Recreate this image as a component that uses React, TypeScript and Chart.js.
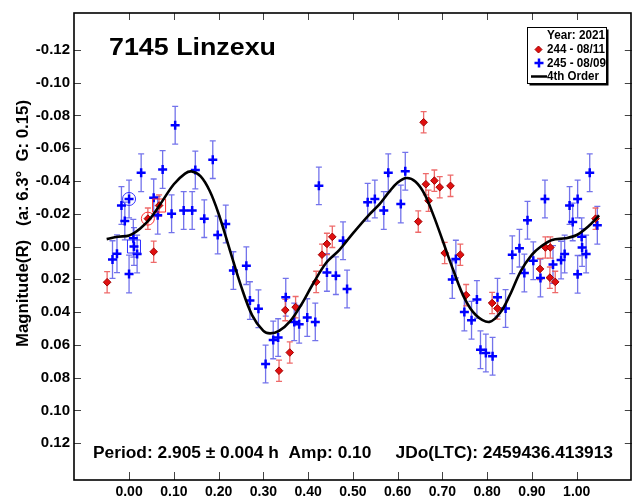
import React, { useEffect, useRef } from 'react';
import { Chart, registerables } from 'chart.js';

Chart.register(...registerables);

const xTickValues = [0, 0.1, 0.2, 0.3, 0.4, 0.5, 0.6, 0.7, 0.8, 0.9, 1.0];
const yTickValues = [-0.12, -0.1, -0.08, -0.06, -0.04, -0.02, 0, 0.02, 0.04, 0.06, 0.08, 0.1, 0.12];

// Session 244 - 08/11 (red diamonds)
const redX = [-0.049, 0.042, 0.055, 0.067, 0.335, 0.349, 0.359, 0.372, 0.418, 0.431, 0.442, 0.454,
  0.646, 0.658, 0.663, 0.669, 0.682, 0.694, 0.718, 0.705, 0.74, 0.753, 0.811, 0.823,
  0.918, 0.93, 0.941, 0.94, 0.952, 1.042];
const redY = [0.0218, -0.017, 0.0032, -0.025, 0.0758, 0.0388, 0.0647, 0.037, 0.0216, 0.005, -0.0016, -0.0059,
  -0.0152, -0.0758, -0.038, -0.0279, -0.0402, -0.0362, -0.037, 0.004, 0.005, 0.0297, 0.0345, 0.0378,
  0.0137, 0.0006, 0.0006, 0.019, 0.0216, -0.017];

// Session 245 - 08/09 (blue crosses)
const blueX = [-0.037, -0.027, 0.0, -0.017, -0.0095, 0.0, 0.0095, 0.011, 0.018, 0.027, 0.055, 0.064,
  0.075, 0.095, 0.103, 0.122, 0.141, 0.148, 0.168, 0.187, 0.198, 0.216, 0.233, 0.262,
  0.27, 0.289, 0.305, 0.322, 0.333, 0.35, 0.369, 0.38, 0.398, 0.416, 0.442, 0.462,
  0.478, 0.487, 0.424, 0.533, 0.549, 0.569, 0.579, 0.607, 0.617, 0.722, 0.73, 0.749,
  0.765, 0.777, 0.785, 0.797, 0.812, 0.823, 0.841, 0.856, 0.872, 0.883, 0.89, 0.903,
  0.919, 0.929, 0.947, 0.965, 0.973, 0.984, 0.991, 1.002, 1.002, 1.011, 1.012, 1.021,
  1.029, 1.046];
const blueY = [0.008, 0.0044, 0.0168, -0.025, -0.0156, -0.029, -0.005, 0.0, 0.0046, -0.045, -0.0297, -0.019,
  -0.047, -0.02, -0.074, -0.022, -0.022, -0.0467, -0.017, -0.053, -0.007, -0.0137, 0.0147, 0.0117,
  0.033, 0.038, 0.0717, 0.057, 0.0556, 0.031, 0.046, 0.0475, 0.0434, 0.046, 0.0158, 0.0178,
  -0.0035, 0.0259, -0.037, -0.027, -0.029, -0.022, -0.045, -0.0259, -0.0459, 0.0202, 0.0077, 0.04,
  0.045, 0.0323, 0.063, 0.065, 0.067, 0.031, 0.0378, 0.005, 0.001, 0.0162, -0.016, 0.0087,
  0.0192, -0.029, 0.011, 0.0083, 0.0046, -0.025, -0.015, -0.029, 0.017, -0.006, 0.0006, 0.0046,
  -0.045, -0.013];

const redErr = 0.0065;
const blueErr = 0.0115;

// highlighted points (circle / square markers)
const redCircleX = [0.042];
const redCircleY = [-0.017];
const redSquareX = [0.067];
const redSquareY = [-0.025];
const blueCircleX = [0.0];
const blueCircleY = [-0.029];
const blueSquareX = [0.011];
const blueSquareY = [0.0];

// 4th order fit curve
const curveX = [-0.05, -0.025, 0.0, 0.025, 0.05, 0.075, 0.1, 0.125, 0.14, 0.16, 0.18, 0.2, 0.225, 0.25,
  0.275, 0.3, 0.315, 0.335, 0.36, 0.385, 0.41, 0.44, 0.47, 0.5, 0.535, 0.56, 0.58, 0.6, 0.62, 0.64,
  0.66, 0.68, 0.7, 0.725, 0.75, 0.775, 0.805, 0.83, 0.85, 0.875, 0.9, 0.92, 0.945, 0.975, 1.0, 1.025, 1.05];
const curveY = [-0.0045, -0.006, -0.0067, -0.011, -0.018, -0.028, -0.038, -0.0445, -0.0458, -0.0428, -0.034, -0.02, 0.002, 0.024,
  0.042, 0.0515, 0.053, 0.0515, 0.0455, 0.0354, 0.0232, 0.0101, 0.002, -0.008, -0.019, -0.026, -0.033, -0.039, -0.0418, -0.0395,
  -0.032, -0.019, -0.004, 0.015, 0.032, 0.042, 0.046, 0.04, 0.03, 0.015, 0.005, 0.0, -0.004, -0.005, -0.007, -0.012, -0.019];

const FONT = '"Liberation Sans", Arial, sans-serif';

const pts = (xs: number[], ys: number[]) => xs.map((x, i) => ({ x, y: ys[i] }));

function fitText(ctx: CanvasRenderingContext2D, text: string, x: number, y: number, w: number, font: string, align: 'left' | 'right' = 'left', baseline: CanvasTextBaseline = 'alphabetic') {
  ctx.save();
  ctx.font = font;
  ctx.textAlign = 'left';
  ctx.textBaseline = baseline;
  const m = ctx.measureText(text).width;
  const sx = w / m;
  ctx.translate(align === 'right' ? x - w : x, y);
  ctx.scale(sx, 1);
  ctx.fillStyle = '#000';
  ctx.fillText(text, 0, 0);
  ctx.restore();
}

function rotText(ctx: CanvasRenderingContext2D, text: string, xBase: number, yStart: number, len: number, font: string) {
  ctx.save();
  ctx.font = font;
  ctx.textAlign = 'left';
  ctx.textBaseline = 'alphabetic';
  const m = ctx.measureText(text).width;
  ctx.translate(xBase, yStart);
  ctx.rotate(-Math.PI / 2);
  ctx.scale(len / m, 1);
  ctx.fillStyle = '#000';
  ctx.fillText(text, 0, 0);
  ctx.restore();
}

const overlay = {
  id: 'overlay',
  beforeDatasetsDraw(chart: any) {
    const ctx: CanvasRenderingContext2D = chart.ctx;
    const xs = chart.scales.x;
    const ys = chart.scales.y;
    const drawBars = (xArr: number[], yArr: number[], err: number, color: string) => {
      ctx.save();
      ctx.strokeStyle = color;
      ctx.lineWidth = 1.3;
      xArr.forEach((xv, i) => {
        const px = xs.getPixelForValue(xv);
        const p1 = ys.getPixelForValue(yArr[i] - err);
        const p2 = ys.getPixelForValue(yArr[i] + err);
        ctx.beginPath();
        ctx.moveTo(px, p1);
        ctx.lineTo(px, p2);
        ctx.moveTo(px - 3, p1);
        ctx.lineTo(px + 3, p1);
        ctx.moveTo(px - 3, p2);
        ctx.lineTo(px + 3, p2);
        ctx.stroke();
      });
      ctx.restore();
    };
    drawBars(blueX, blueY, blueErr, 'rgba(80,80,230,0.8)');
    drawBars(redX, redY, redErr, 'rgba(235,80,80,0.85)');
  },
  afterDraw(chart: any) {
    const ctx: CanvasRenderingContext2D = chart.ctx;
    const a = chart.chartArea;
    const xs = chart.scales.x;
    const ys = chart.scales.y;
    ctx.save();
    // tick marks (inside)
    ctx.strokeStyle = '#444';
    ctx.lineWidth = 1;
    ctx.beginPath();
    yTickValues.forEach((v) => {
      const py = Math.round(ys.getPixelForValue(v)) + 0.5;
      ctx.moveTo(a.left, py);
      ctx.lineTo(a.left + 7, py);
      ctx.moveTo(a.right - 7, py);
      ctx.lineTo(a.right, py);
    });
    xTickValues.forEach((v) => {
      const px = Math.round(xs.getPixelForValue(v)) + 0.5;
      ctx.moveTo(px, a.bottom);
      ctx.lineTo(px, a.bottom - 8);
      ctx.moveTo(px, a.top);
      ctx.lineTo(px, a.top + 7);
    });
    ctx.stroke();
    // frame
    ctx.strokeStyle = '#000';
    ctx.lineWidth = 1.6;
    ctx.strokeRect(a.left, a.top, a.right - a.left - 0.8, a.bottom - a.top);
    ctx.restore();

    // title
    fitText(ctx, '7145 Linzexu', 109, 55, 167, `bold 23px ${FONT}`);
    // footer
    fitText(ctx, 'Period: 2.905 ± 0.004 h  Amp: 0.10     JDo(LTC): 2459436.413913', 93, 457.5, 520, `bold 16px ${FONT}`);
    // y axis title
    rotText(ctx, 'Magnitude(R)   (a: 6.3°  G: 0.15)', 27.5, 347, 247, `bold 16px ${FONT}`);

    // legend
    ctx.save();
    ctx.fillStyle = '#000';
    ctx.fillRect(529.5, 29.5, 79, 56);
    ctx.fillStyle = '#fff';
    ctx.fillRect(527.5, 27.5, 79, 56);
    ctx.strokeStyle = '#000';
    ctx.lineWidth = 1;
    ctx.strokeRect(527.5, 27.5, 79, 56);
    // diamond
    ctx.fillStyle = '#e01010';
    ctx.strokeStyle = '#a00000';
    ctx.beginPath();
    ctx.moveTo(538.5, 46);
    ctx.lineTo(542, 49.5);
    ctx.lineTo(538.5, 53);
    ctx.lineTo(535, 49.5);
    ctx.closePath();
    ctx.fill();
    ctx.stroke();
    // cross
    ctx.strokeStyle = '#0000ff';
    ctx.lineWidth = 2.5;
    ctx.beginPath();
    ctx.moveTo(534.5, 63);
    ctx.lineTo(543.5, 63);
    ctx.moveTo(539, 58.5);
    ctx.lineTo(539, 67.5);
    ctx.stroke();
    // line
    ctx.strokeStyle = '#000';
    ctx.lineWidth = 2.5;
    ctx.beginPath();
    ctx.moveTo(531, 76.5);
    ctx.lineTo(547, 76.5);
    ctx.stroke();
    ctx.restore();
    const lf = `bold 12px ${FONT}`;
    fitText(ctx, 'Year: 2021', 605, 35.5, 58, lf, 'right', 'middle');
    fitText(ctx, '244 - 08/11', 547, 50, 58, lf, 'left', 'middle');
    fitText(ctx, '245 - 08/09', 547, 63.5, 59, lf, 'left', 'middle');
    fitText(ctx, '4th Order', 547, 77, 52, lf, 'left', 'middle');
  },
};

export default function App() {
  const ref = useRef<HTMLCanvasElement | null>(null);
  useEffect(() => {
    if (!ref.current) return;
    const chart = new Chart(ref.current, {
      type: 'scatter',
      data: {
        datasets: [
          {
            label: '4th Order',
            data: pts(curveX, curveY),
            showLine: true,
            borderColor: '#000',
            borderWidth: 2.6,
            pointRadius: 0,
            tension: 0.35,
            fill: false,
          } as any,
          {
            label: 'red circle',
            data: pts(redCircleX, redCircleY),
            pointStyle: 'circle',
            pointRadius: 6.5,
            borderColor: '#ff3030',
            backgroundColor: 'rgba(0,0,0,0)',
            borderWidth: 1,
          },
          {
            label: 'red square',
            data: pts(redSquareX, redSquareY),
            pointStyle: 'rect',
            pointRadius: 9.2,
            borderColor: '#ff3030',
            backgroundColor: 'rgba(0,0,0,0)',
            borderWidth: 1,
          },
          {
            label: 'blue circle',
            data: pts(blueCircleX, blueCircleY),
            pointStyle: 'circle',
            pointRadius: 6.5,
            borderColor: '#3030ff',
            backgroundColor: 'rgba(0,0,0,0)',
            borderWidth: 1,
          },
          {
            label: 'blue square',
            data: pts(blueSquareX, blueSquareY),
            pointStyle: 'rect',
            pointRadius: 9.2,
            borderColor: '#3030ff',
            backgroundColor: 'rgba(0,0,0,0)',
            borderWidth: 1,
          },
          {
            label: '244 - 08/11',
            data: pts(redX, redY),
            pointStyle: 'rectRot',
            pointRadius: 3.8,
            backgroundColor: '#e01010',
            borderColor: '#a00000',
            borderWidth: 1,
          },
          {
            label: '245 - 08/09',
            data: pts(blueX, blueY),
            pointStyle: 'cross',
            pointRadius: 4.5,
            borderColor: '#0000ff',
            backgroundColor: '#0000ff',
            borderWidth: 2.5,
          },
        ],
      },
      options: {
        animation: false,
        responsive: false,
        events: [],
        layout: { padding: { top: 10, right: 1, left: 0, bottom: 0 } },
        plugins: { legend: { display: false }, tooltip: { enabled: false } },
        scales: {
          x: {
            type: 'linear',
            min: -0.123,
            max: 1.123,
            grid: { display: false, drawTicks: false },
            border: { display: false },
            afterBuildTicks: (s: any) => {
              s.ticks = xTickValues.map((v) => ({ value: v }));
            },
            afterFit: (s: any) => {
              s.height = 20;
            },
            ticks: {
              autoSkip: false,
              maxRotation: 0,
              padding: 4,
              color: '#000',
              font: { family: FONT, size: 14, weight: 'bold' },
              callback: (v: any) => Number(v).toFixed(2),
            },
          },
          y: {
            type: 'linear',
            reverse: true,
            min: -0.1425,
            max: 0.1425,
            grid: { display: false, drawTicks: false },
            border: { display: false },
            afterBuildTicks: (s: any) => {
              s.ticks = yTickValues.map((v) => ({ value: v }));
            },
            afterFit: (s: any) => {
              s.width = 74;
            },
            ticks: {
              autoSkip: false,
              padding: 4,
              color: '#000',
              font: { family: FONT, size: 15, weight: 'bold' },
              callback: (v: any) => Number(v).toFixed(2),
            },
          },
        },
      } as any,
      plugins: [overlay],
    });
    return () => chart.destroy();
  }, []);
  return (
    <div style={{ position: 'fixed', left: 0, top: 0, width: 642, height: 500, background: '#fff' }}>
      <canvas ref={ref} width={642} height={500} style={{ display: 'block', width: 642, height: 500 }} />
    </div>
  );
}
